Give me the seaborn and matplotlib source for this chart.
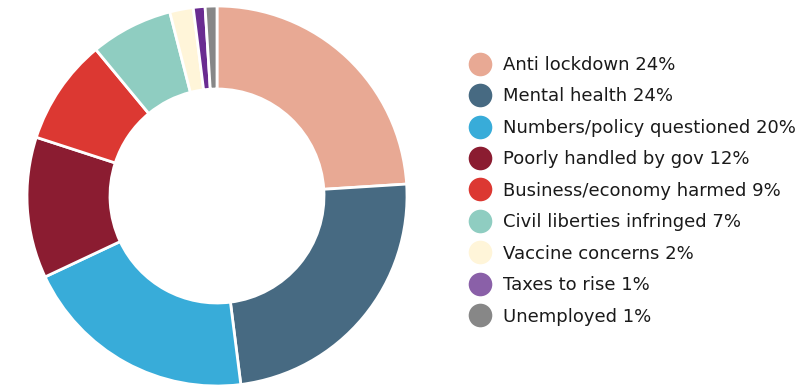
import matplotlib
matplotlib.use("Agg")
import matplotlib.pyplot as plt
from matplotlib.lines import Line2D
import seaborn as sns

categories = ["Anti lockdown", "Mental health", "Numbers/policy questioned",
              "Poorly handled by gov", "Business/economy harmed",
              "Civil liberties infringed", "Vaccine concerns", "Taxes to rise",
              "Unemployed"]
values = [24, 24, 20, 12, 9, 7, 2, 1, 1]
wedge_colors = ["#e8a994", "#476a82", "#38acd9", "#8b1c31", "#dc3832",
                "#8fcdc1", "#fff5d9", "#6a2c91", "#878787"]
legend_colors = ["#e8a994", "#476a82", "#38acd9", "#8b1c31", "#dc3832",
                 "#8fcdc1", "#fff5d9", "#8a60a8", "#878787"]

sns.set_theme(style="white")
plt.rcParams['font.family'] = ['DejaVu Sans']

fig = plt.figure(figsize=(8.1, 3.86), dpi=100)
ax = fig.add_axes([27/810, 1 - (196 + 190) / 386, 380/810, 380/386])
palette = sns.color_palette(wedge_colors)
ax.pie(values, colors=palette, startangle=90, counterclock=False,
       radius=1.0,
       wedgeprops=dict(width=1 - 107/190, edgecolor="white", linewidth=2))
ax.set_xlim(-1, 1)
ax.set_ylim(-1, 1)
ax.set_aspect("equal")
ax.axis("off")

handles = [Line2D([0], [0], marker="o", linestyle="none", markersize=17,
                  markerfacecolor=c, markeredgecolor="none")
           for c in legend_colors]
labels = [f"{c} {v}%" for c, v in zip(categories, values)]
leg = fig.legend(handles, labels, loc="upper left",
                 bbox_to_anchor=(467.5/810, 1 - 56/386),
                 frameon=False, fontsize=13, labelspacing=0.745,
                 handletextpad=0.57, handlelength=1.4, borderpad=0,
                 borderaxespad=0)
for t in leg.get_texts():
    t.set_color("#1a1a1a")

fig.savefig("out.png", dpi=100, facecolor="white")
